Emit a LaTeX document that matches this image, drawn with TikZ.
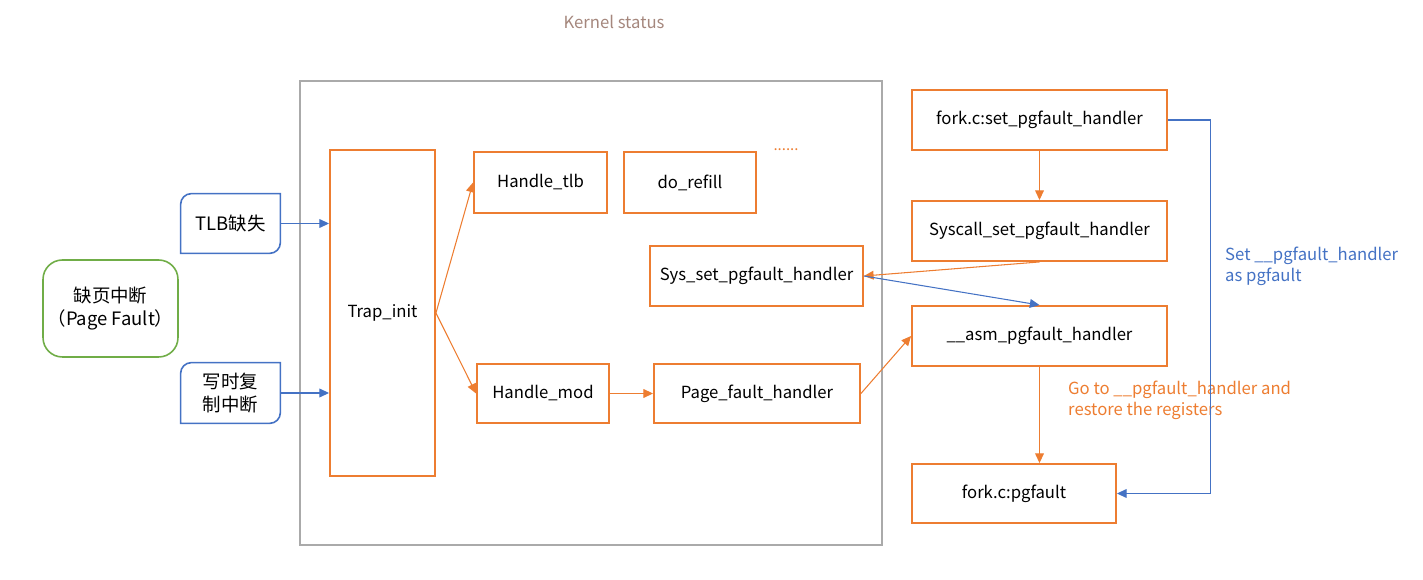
\documentclass[tikz,border=0pt]{standalone}
\usepackage{fontspec}
\setmainfont{Noto Sans CJK SC}
\usetikzlibrary{arrows.meta}
\definecolor{boxorange}{RGB}{237,125,49}
\definecolor{boxblue}{RGB}{68,114,196}
\definecolor{boxgreen}{RGB}{112,173,71}
\definecolor{framegray}{RGB}{170,170,170}
\definecolor{titlegray}{RGB}{165,135,125}

\tikzset{
  lbl/.style={font=\fontsize{9.5}{12}\selectfont},
  cjklbl/.style={font=\fontsize{10.5}{13}\selectfont},
  funcbox/.style={lbl, draw=boxorange, line width=1.1pt, inner sep=2pt},
  evtbox/.style={cjklbl, align=center, inner sep=2pt},
  faultbox/.style={cjklbl, draw=boxgreen, line width=0.9pt, rounded corners=11pt, align=center, inner sep=2pt},
  evtline/.style={draw=boxblue, line width=0.9pt},
  orangeline/.style={draw=boxorange, line width=0.6pt, -{Triangle[length=5.5pt,width=5pt]}},
  blueline/.style={draw=boxblue, line width=0.6pt, -{Triangle[length=5.5pt,width=5pt]}},
}

\begin{document}
\begin{tikzpicture}[x=0.02cm, y=-0.02cm]
\useasboundingbox (0,0) rectangle (1423,580);

% kernel part
\node[lbl, text=titlegray] (title) at (614,22) {Kernel status};
\node[draw=framegray, line width=0.9pt, minimum width=11.64cm, minimum height=9.28cm] (kernel) at (591,313) {};

% interrupts
\node[faultbox, minimum width=2.7cm, minimum height=1.94cm] (pf) at (110.5,308.5) {缺页中断\\（Page Fault）};
\node[evtbox, minimum width=1.98cm, minimum height=1.18cm] (tlbmiss) at (230.5,223.5) {TLB缺失};
\node[evtbox, minimum width=1.98cm, minimum height=1.2cm] (cow) at (230.5,393) {写时复\\制中断};
\draw[evtline] (tlbmiss.west) [rounded corners=6pt] -- (tlbmiss.north west) [sharp corners] -- (tlbmiss.north east) [rounded corners=6pt] -- (tlbmiss.south east) [sharp corners] -- (tlbmiss.south west) -- cycle;
\draw[evtline] (cow.west) [rounded corners=6pt] -- (cow.north west) [sharp corners] -- (cow.north east) [rounded corners=6pt] -- (cow.south east) [sharp corners] -- (cow.south west) -- cycle;

% kernel functions
\node[funcbox, minimum width=2.1cm, minimum height=6.52cm] (trap) at (382.5,313) {Trap\_init};
\node[funcbox, minimum width=2.66cm, minimum height=1.22cm] (tlb) at (540.5,182.5) {Handle\_tlb};
\node[funcbox, minimum width=2.64cm, minimum height=1.22cm] (refill) at (690,182.5) {do\_refill};
\node[text=boxorange, font=\fontsize{8.5}{10}\selectfont] (more) at (786,150) {......};
\node[funcbox, minimum width=4.26cm, minimum height=1.2cm] (sysset) at (756.5,276) {Sys\_set\_pgfault\_handler};
\node[funcbox, minimum width=2.64cm, minimum height=1.18cm] (mod) at (543,393.5) {Handle\_mod};
\node[funcbox, minimum width=4.12cm, minimum height=1.18cm] (pfh) at (757,393.5) {Page\_fault\_handler};

% user functions
\node[funcbox, minimum width=5.1cm, minimum height=1.2cm] (forkset) at (1039.5,120) {fork.c:set\_pgfault\_handler};
\node[funcbox, minimum width=5.1cm, minimum height=1.2cm] (syscall) at (1039.5,231) {Syscall\_set\_pgfault\_handler};
\node[funcbox, minimum width=5.1cm, minimum height=1.2cm] (asm) at (1039.5,336) {\_\_asm\_pgfault\_handler};
\node[funcbox, minimum width=4.08cm, minimum height=1.18cm] (pgfault) at (1014,493.5) {fork.c:pgfault};

% notes
\node[lbl, text=boxblue, anchor=west, align=left] (setnote) at (1219,266) {Set \_\_pgfault\_handler\\as pgfault};
\node[lbl, text=boxorange, anchor=west, align=left] (gonote) at (1062,400) {Go to \_\_pgfault\_handler and\\restore the registers};

% connectors
\draw[blueline] (tlbmiss.east) -- (tlbmiss.east -| trap.west);
\draw[blueline] (cow.east) -- (cow.east -| trap.west);
\draw[orangeline] (trap.east) -- (tlb.west);
\draw[orangeline] (trap.east) -- (mod.west);
\draw[orangeline] (mod) -- (pfh);
\draw[orangeline] (pfh.east) -- (asm.west);
\draw[orangeline] (forkset) -- (syscall);
\draw[orangeline] (syscall.south) -- (sysset.east);
\draw[blueline] (sysset.east) -- (asm.north);
\draw[orangeline] (asm.south) -- (asm.south |- pgfault.north);
\draw[blueline] (forkset.east) -- ++(43,0) |- (pgfault.east);
\end{tikzpicture}
\end{document}
